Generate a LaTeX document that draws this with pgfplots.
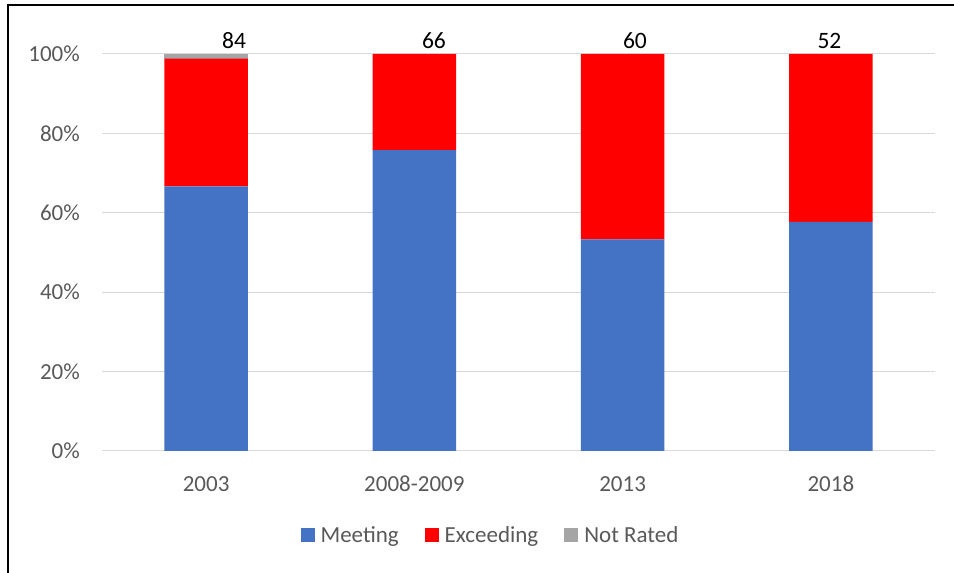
\documentclass[border=0pt]{standalone}
\usepackage{fontspec}
\setmainfont{Carlito}
\usepackage{pgfplots}
\pgfplotsset{compat=1.18}
\definecolor{meet}{HTML}{4472C4}
\definecolor{exceed}{HTML}{FF0000}
\definecolor{notrated}{HTML}{A5A5A5}
\definecolor{ticktext}{HTML}{595959}
\definecolor{gridc}{HTML}{D9D9D9}
\begin{document}
\begin{tikzpicture}
\path[use as bounding box] (0,0) rectangle (954bp,573bp);
\draw[line width=1.2bp] (8bp,0) -- (8bp,568bp) -- (954bp,568bp);
\begin{axis}[
  at={(102bp,122bp)}, anchor=south west, scale only axis,
  width=833bp, height=397bp,
  ybar stacked, bar width=0.4,
  xmin=-0.5, xmax=3.5, ymin=0, ymax=100,
  xtick={0,1,2,3}, xticklabels={2003,2008-2009,2013,2018},
  ytick={0,20,40,60,80,100}, yticklabels={0\%,20\%,40\%,60\%,80\%,100\%},
  axis line style={draw=none},
  major tick length=0pt,
  ymajorgrids, grid style={gridc, line width=1bp},
  tick label style={font=\fontsize{23bp}{27bp}\selectfont, text=ticktext},
  yticklabel style={anchor=east, inner sep=0pt, xshift=-22bp},
  xticklabel style={anchor=north, inner sep=0pt, yshift=-25bp},
  legend style={at={(0.4664,-0.2116)}, anchor=center, draw=none,
    font=\fontsize{23bp}{27bp}\selectfont, text=ticktext,
    /tikz/every odd column/.append style={column sep=4bp},
    /tikz/every even column/.append style={column sep=24bp}},
  legend columns=3,
  legend image code/.code={\path[#1,draw=none] (0bp,-7bp) rectangle (14bp,7bp);},
  clip=false,
]
\addplot[fill=meet, draw=none] coordinates {(0,66.67) (1,75.76) (2,53.33) (3,57.69)};
\addplot[fill=exceed, draw=none] coordinates {(0,32.14) (1,24.24) (2,46.67) (3,42.31)};
\addplot[fill=notrated, draw=none] coordinates {(0,1.19) (1,0) (2,0) (3,0)};
\legend{Meeting, Exceeding, Not Rated}
\node[anchor=base, inner sep=0pt, yshift=5bp, font=\fontsize{23.5bp}{27bp}\selectfont, text=black] at (axis cs:0.134,100) {84};
\node[anchor=base, inner sep=0pt, yshift=5bp, font=\fontsize{23.5bp}{27bp}\selectfont, text=black] at (axis cs:1.094,100) {66};
\node[anchor=base, inner sep=0pt, yshift=5bp, font=\fontsize{23.5bp}{27bp}\selectfont, text=black] at (axis cs:2.059,100) {60};
\node[anchor=base, inner sep=0pt, yshift=5bp, font=\fontsize{23.5bp}{27bp}\selectfont, text=black] at (axis cs:2.993,100) {52};
\end{axis}
\end{tikzpicture}
\end{document}
